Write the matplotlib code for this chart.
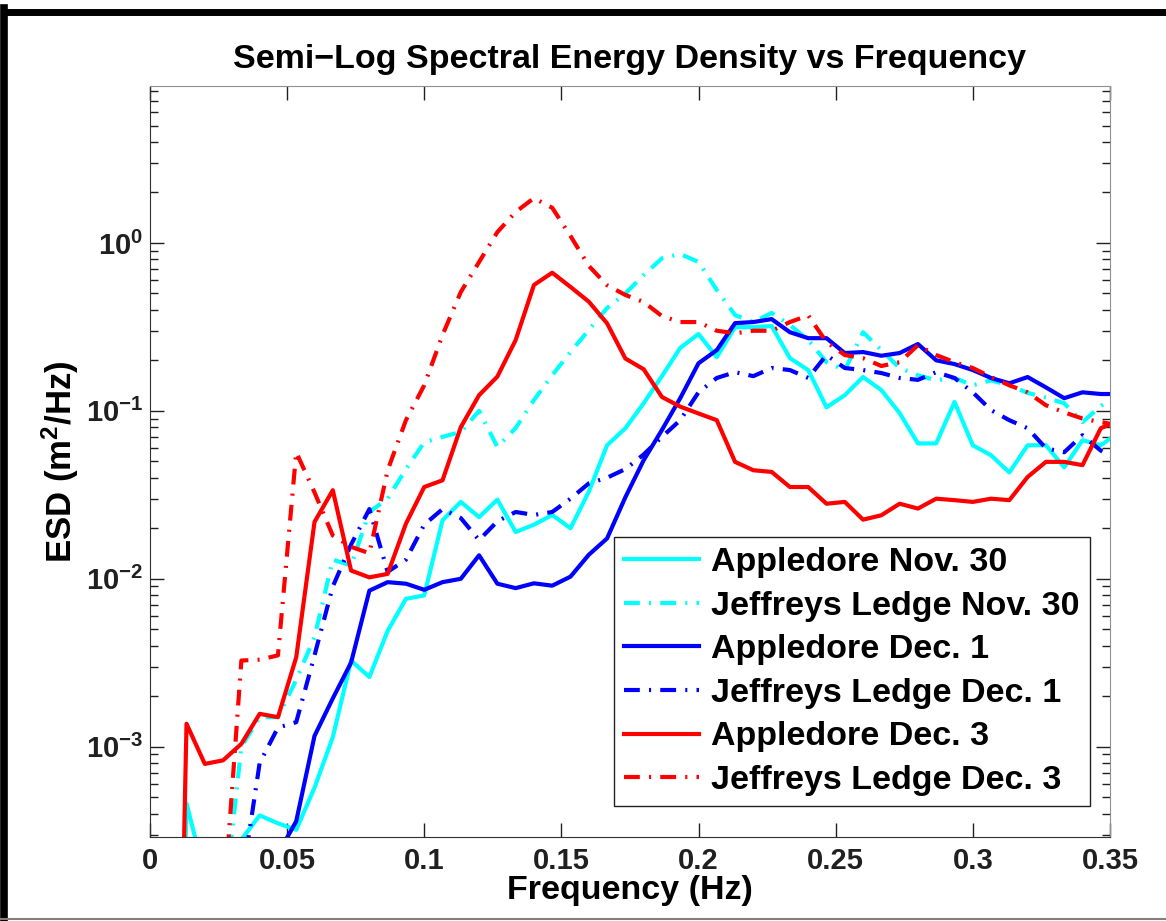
import matplotlib
matplotlib.use("Agg")
import matplotlib.pyplot as plt
import numpy as np
from matplotlib.lines import Line2D
from matplotlib.ticker import FixedLocator, LogLocator, FuncFormatter, NullFormatter

plt.rcParams['font.family'] = ['Liberation Sans', 'DejaVu Sans']
plt.rcParams['font.weight'] = 'bold'
plt.rcParams['mathtext.fontset'] = 'custom'
plt.rcParams['mathtext.rm'] = 'Liberation Sans:bold'
plt.rcParams['mathtext.bf'] = 'Liberation Sans:bold'
plt.rcParams['mathtext.it'] = 'Liberation Sans:bold:italic'

# frequency bins (df = 1/150 Hz)
freq = np.arange(1, 54) / 150.0

# spectral energy density, m^2/Hz
app_nov30 = [1e-8, 4.6e-4, 1.7e-4, 1e-4, 2.8e-4, 3.9e-4, 3.5e-4, 3.2e-4, 5.7e-4, 1.14e-3,
             3.26e-3, 2.6e-3, 4.9e-3, 7.6e-3, 7.96e-3, 0.0223, 0.0287, 0.0233, 0.0296, 0.019,
             0.021, 0.024, 0.020, 0.033, 0.0624, 0.0788, 0.111, 0.161, 0.237, 0.287,
             0.209, 0.315, 0.315, 0.320, 0.206, 0.175, 0.105, 0.124, 0.159, 0.133,
             0.097, 0.064, 0.064, 0.113, 0.0624, 0.0544, 0.043, 0.0624, 0.0624, 0.0461,
             0.0669, 0.0624, 0.0746]
jl_nov30 = [5e-5, 5e-5, 5e-5, 1e-4, 1.0e-3, 1.5e-3, 1.5e-3, 2.5e-3, 4.5e-3, 0.013,
            0.012, 0.025, 0.030, 0.045, 0.065, 0.070, 0.075, 0.100, 0.061, 0.079,
            0.116, 0.163, 0.224, 0.303, 0.41, 0.50, 0.644, 0.81, 0.86, 0.77,
            0.525, 0.372, 0.338, 0.383, 0.325, 0.264, 0.195, 0.175, 0.294, 0.23,
            0.18, 0.163, 0.152, 0.157, 0.142, 0.152, 0.142, 0.128, 0.12, 0.111,
            0.0857, 0.107, 0.124]
app_dec1 = [5e-5, 5e-5, 5e-5, 5e-5, 5e-5, 5e-5, 2.3e-4, 3.6e-4, 1.16e-3, 1.94e-3,
            3.17e-3, 8.5e-3, 9.55e-3, 9.35e-3, 8.6e-3, 9.55e-3, 0.010, 0.0138, 9.35e-3, 8.8e-3,
            9.4e-3, 9.1e-3, 0.0103, 0.0139, 0.0174, 0.0306, 0.0508, 0.077, 0.119, 0.192,
            0.23, 0.333, 0.338, 0.352, 0.294, 0.271, 0.271, 0.221, 0.224, 0.213,
            0.221, 0.25, 0.20, 0.19, 0.175, 0.157, 0.146, 0.159, 0.138, 0.119,
            0.129, 0.126, 0.126]
jl_dec1 = [5e-5, 5e-5, 5e-5, 5e-5, 1.5e-4, 8e-4, 1.3e-3, 1.4e-3, 3.5e-3, 9e-3,
           0.016, 0.026, 0.011, 0.013, 0.021, 0.026, 0.023, 0.017, 0.022, 0.025,
           0.024, 0.025, 0.030, 0.037, 0.040, 0.045, 0.055, 0.070, 0.088, 0.129,
           0.157, 0.170, 0.161, 0.180, 0.175, 0.157, 0.215, 0.180, 0.175, 0.168,
           0.157, 0.153, 0.170, 0.157, 0.129, 0.101, 0.088, 0.0788, 0.0599, 0.0567,
           0.0716, 0.058, 0.051]
app_dec3 = [1e-8, 1.37e-3, 7.9e-4, 8.3e-4, 1.04e-3, 1.57e-3, 1.50e-3, 3.41e-3, 0.0218, 0.0337,
            0.0112, 0.0102, 0.0107, 0.0213, 0.0352, 0.0386, 0.080, 0.124, 0.160, 0.264,
            0.562, 0.665, 0.547, 0.447, 0.332, 0.205, 0.177, 0.121, 0.106, 0.0965,
            0.088, 0.0497, 0.0443, 0.0433, 0.0352, 0.0352, 0.0280, 0.0287, 0.0225, 0.0239,
            0.0280, 0.0262, 0.0300, 0.0294, 0.0287, 0.0300, 0.0294, 0.0404, 0.0497, 0.0497,
            0.0475, 0.0788, 0.088]
jl_dec3 = [5e-5, 5e-5, 5e-5, 1e-4, 3.26e-3, 3.3e-3, 3.5e-3, 0.0567, 0.0327, 0.0181,
           0.0155, 0.0142, 0.0443, 0.088, 0.142, 0.283, 0.51, 0.77, 1.16, 1.53,
           1.85, 1.62, 1.10, 0.73, 0.56, 0.49, 0.445, 0.367, 0.338, 0.338,
           0.30, 0.29, 0.30, 0.30, 0.338, 0.37, 0.257, 0.215, 0.206, 0.185,
           0.195, 0.246, 0.215, 0.195, 0.18, 0.159, 0.142, 0.129, 0.108, 0.098,
           0.090, 0.0857, 0.082]

labels = ['Appledore Nov. 30', 'Jeffreys Ledge Nov. 30', 'Appledore Dec. 1',
          'Jeffreys Ledge Dec. 1', 'Appledore Dec. 3', 'Jeffreys Ledge Dec. 3']
series = [app_nov30, jl_nov30, app_dec1, jl_dec1, app_dec3, jl_dec3]
colors = ['#00FFFF', '#00FFFF', '#0000FF', '#0000FF', '#FF0000', '#FF0000']
dashdot = (3.8, 2.2, 0.5, 2.2)

fig = plt.figure(figsize=(11.66, 9.21), dpi=100)
ax = fig.add_axes([0.1286, 0.0912, 0.8233, 0.8154])

for i, (y, lab, c) in enumerate(zip(series, labels, colors)):
    line, = ax.semilogy(freq, y, color=c, lw=3, label=lab)
    if i % 2 == 1:
        line.set_dashes(dashdot)

ax.set_xlim(0, 0.35)
ax.set_ylim(2.9e-4, 8.6)

ax.xaxis.set_major_locator(FixedLocator(np.arange(0, 0.351, 0.05)))
ax.xaxis.set_major_formatter(FuncFormatter(lambda v, p: '%g' % round(v, 2)))
ax.yaxis.set_major_locator(LogLocator(base=10, numticks=10))
ax.yaxis.set_minor_locator(LogLocator(base=10, subs=np.arange(2, 10), numticks=20))
ax.yaxis.set_minor_formatter(NullFormatter())

ax.tick_params(which='both', direction='in', top=True, right=True,
               labelsize=21, colors='#202020')
ax.tick_params(axis='x', pad=7)
ax.tick_params(axis='y', pad=5)
ax.tick_params(which='major', length=10, width=1)
ax.tick_params(which='minor', length=6, width=1)
for s in ['left', 'bottom']:
    ax.spines[s].set_color('#303030')
for s in ['top', 'right']:
    ax.spines[s].set_color('#909090')

ax.set_title('Semi\u2212Log Spectral Energy Density vs Frequency', fontsize=24.5,
             fontweight='bold', pad=13)
ax.set_xlabel('Frequency (Hz)', fontsize=24.5, fontweight='bold')
ax.set_ylabel('ESD (m$^2$/Hz)', fontsize=25, fontweight='bold')
ax.xaxis.set_label_coords(0.5, -0.051)
ax.yaxis.set_label_coords(-0.072, 0.5)

leg = ax.legend(loc='lower right', bbox_to_anchor=(0.979, 0.041), fontsize=24.5,
                handlelength=2.2, labelspacing=0.37, borderpad=0.3,
                handletextpad=0.36, borderaxespad=0, fancybox=False, framealpha=1)
leg.get_frame().set_edgecolor('#202020')
leg.get_frame().set_linewidth(1)

# outer frame of the figure window
fig.add_artist(Line2D([0.004, 1.0], [0.9875, 0.9875], transform=fig.transFigure,
                      color='black', lw=5))
fig.add_artist(Line2D([0.0035, 0.0035], [0.0, 0.991], transform=fig.transFigure,
                      color='black', lw=5.5))
fig.add_artist(Line2D([0.0, 1.0], [0.002, 0.002], transform=fig.transFigure,
                      color='#808080', lw=1.5))

fig.savefig('out.png', dpi=100)
